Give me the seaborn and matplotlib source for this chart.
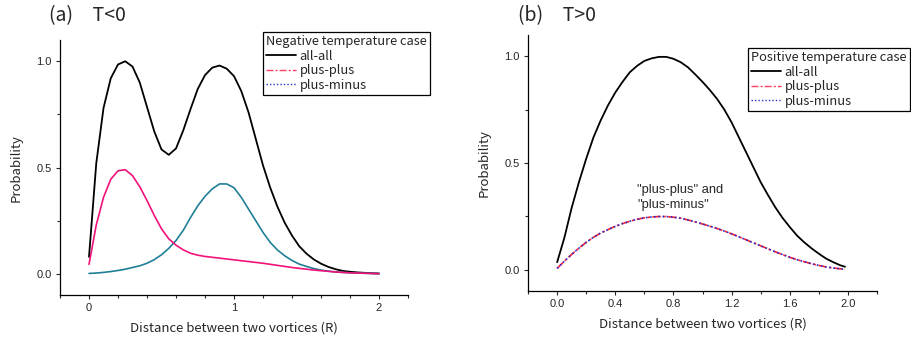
import numpy as np
import pandas as pd
import matplotlib
matplotlib.use("Agg")
import matplotlib.pyplot as plt
from matplotlib.lines import Line2D
from matplotlib.ticker import MultipleLocator, FormatStrFormatter
import seaborn as sns

# --- data ---
# (a) negative temperature, R step 0.05
x_neg = [round(0.05 * i, 2) for i in range(41)]
all_neg = [0.08, 0.52, 0.78, 0.92, 0.985, 1.00, 0.975, 0.90, 0.785, 0.67,
           0.585, 0.56, 0.59, 0.675, 0.775, 0.87, 0.935, 0.97, 0.98, 0.965,
           0.93, 0.86, 0.76, 0.635, 0.51, 0.405, 0.315, 0.24, 0.18, 0.13,
           0.095, 0.068, 0.048, 0.033, 0.022, 0.014, 0.01, 0.007, 0.005, 0.003, 0.002]
pp_neg = [0.045, 0.23, 0.36, 0.445, 0.485, 0.49, 0.462, 0.41, 0.345, 0.275,
          0.212, 0.165, 0.135, 0.113, 0.097, 0.088, 0.082, 0.078, 0.074, 0.07,
          0.066, 0.062, 0.058, 0.054, 0.05, 0.045, 0.04, 0.035, 0.03, 0.026,
          0.022, 0.018, 0.015, 0.012, 0.009, 0.007, 0.005, 0.004, 0.003, 0.002, 0.001]
pm_neg = [0.002, 0.004, 0.007, 0.011, 0.016, 0.022, 0.03, 0.038, 0.05, 0.067,
          0.09, 0.12, 0.157, 0.205, 0.265, 0.32, 0.365, 0.40, 0.423, 0.423,
          0.405, 0.36, 0.305, 0.25, 0.195, 0.148, 0.112, 0.085, 0.063, 0.046,
          0.035, 0.025, 0.018, 0.013, 0.009, 0.007, 0.005, 0.004, 0.003, 0.002, 0.001]

# (b) positive temperature, R step 0.05 up to 1.98
x_pos = [round(0.05 * i, 2) for i in range(40)] + [1.98]
all_pos = [0.035, 0.15, 0.29, 0.41, 0.52, 0.62, 0.70, 0.77, 0.83, 0.88,
           0.925, 0.955, 0.978, 0.99, 0.997, 0.997, 0.988, 0.972, 0.948, 0.915,
           0.88, 0.842, 0.80, 0.75, 0.69, 0.62, 0.55, 0.48, 0.41, 0.35,
           0.293, 0.243, 0.20, 0.16, 0.128, 0.10, 0.075, 0.052, 0.035, 0.02, 0.014]
pp_pos = [0.006, 0.04, 0.072, 0.101, 0.128, 0.152, 0.172, 0.188, 0.203, 0.216,
          0.227, 0.236, 0.243, 0.247, 0.249, 0.249, 0.246, 0.241, 0.233, 0.224,
          0.214, 0.204, 0.193, 0.181, 0.168, 0.154, 0.14, 0.126, 0.112, 0.098,
          0.084, 0.071, 0.058, 0.047, 0.037, 0.028, 0.02, 0.013, 0.008, 0.004, 0.002]
pm_pos = [0.006, 0.04, 0.072, 0.101, 0.128, 0.152, 0.172, 0.188, 0.203, 0.216,
          0.227, 0.236, 0.243, 0.247, 0.249, 0.249, 0.246, 0.241, 0.233, 0.224,
          0.214, 0.204, 0.193, 0.181, 0.168, 0.154, 0.14, 0.126, 0.112, 0.098,
          0.084, 0.071, 0.058, 0.047, 0.037, 0.028, 0.02, 0.013, 0.008, 0.004, 0.002]

series_labels = ["all-all", "plus-plus", "plus-minus"]

sns.set_style("ticks")
plt.rcParams['font.family'] = ['Noto Sans CJK JP', 'DejaVu Sans']

fig = plt.figure(figsize=(9.12, 3.42), dpi=100)
ax1 = fig.add_axes([0.0658, 0.137, 0.3816, 0.746])
ax2 = fig.add_axes([0.579, 0.149, 0.3826, 0.749])

df_neg = pd.DataFrame({"R": x_neg, "all": all_neg, "pp": pp_neg, "pm": pm_neg})
df_pos = pd.DataFrame({"R": x_pos, "all": all_pos, "pp": pp_pos, "pm": pm_pos})

# panel (a)
sns.lineplot(data=df_neg, x="R", y="all", ax=ax1, color="black", lw=1.3)
sns.lineplot(data=df_neg, x="R", y="pm", ax=ax1, color="#1F7F96", lw=1.2)
sns.lineplot(data=df_neg, x="R", y="pp", ax=ax1, color="#F0127A", lw=1.2)

# panel (b)
sns.lineplot(data=df_pos, x="R", y="all", ax=ax2, color="black", lw=1.3)
sns.lineplot(data=df_pos, x="R", y="pp", ax=ax2, color="#FF2030", lw=1.2,
             linestyle=(0, (5, 1.5, 1.5, 1.5)))
sns.lineplot(data=df_pos, x="R", y="pm", ax=ax2, color="#3030D0", lw=1.2,
             linestyle=(0, (1, 1.5)))

ax2.text(0.55, 0.40, '"plus-plus" and\n"plus-minus"', fontsize=9.3,
         family="Liberation Sans", ha="left", va="top", linespacing=1.25)

handles = [
    Line2D([], [], color="black", lw=1.3),
    Line2D([], [], color="#FF4060", lw=1.0, linestyle=(0, (5, 1.5, 1.5, 1.5))),
    Line2D([], [], color="#3030D0", lw=1.0, linestyle=(0, (1, 1.5))),
]

for ax, title, loc_xy, tag, tag_x in [
        (ax1, "Negative temperature case", (0.583, 1.031), "(a)\u3000T<0", 0.054),
        (ax2, "Positive temperature case", (0.63, 0.949), "(b)\u3000T>0", 0.568)]:
    ax.set_xlim(-0.2, 2.2)
    ax.set_ylim(-0.1, 1.1)
    ax.yaxis.set_major_locator(MultipleLocator(0.5))
    ax.yaxis.set_minor_locator(MultipleLocator(0.25))
    ax.xaxis.set_minor_locator(MultipleLocator(0.2))
    ax.yaxis.set_major_formatter(FormatStrFormatter("%.1f"))
    ax.tick_params(which="major", length=3, width=0.8, labelsize=8, pad=3)
    ax.tick_params(which="minor", length=2, width=0.8)
    sns.despine(ax=ax)
    for s in ["left", "bottom"]:
        ax.spines[s].set_linewidth(0.9)
        ax.spines[s].set_color("black")
    ax.set_xlabel("Distance between two vortices (R)", fontsize=9.5, labelpad=6)
    ax.set_ylabel("Probability", fontsize=9.5, labelpad=10)
    leg = ax.legend(handles, series_labels, title=title, loc="upper left",
                    bbox_to_anchor=loc_xy, fontsize=9.3, title_fontsize=9.3,
                    frameon=True, fancybox=False, framealpha=1, edgecolor="black",
                    handlelength=2.3, handletextpad=0.3, labelspacing=0.12,
                    borderpad=0.25, borderaxespad=0, alignment="left")
    leg.get_frame().set_linewidth(0.9)
    fig.text(tag_x, 0.955, tag, fontsize=14, ha="left", va="center")

ax1.xaxis.set_major_locator(MultipleLocator(1))
ax2.xaxis.set_major_locator(MultipleLocator(0.4))
ax2.xaxis.set_major_formatter(FormatStrFormatter("%.1f"))
for ax in (ax1, ax2):
    for lab in ax.get_xticklabels() + ax.get_yticklabels():
        lab.set_fontfamily("Liberation Sans")

fig.savefig("out.png", dpi=100)
